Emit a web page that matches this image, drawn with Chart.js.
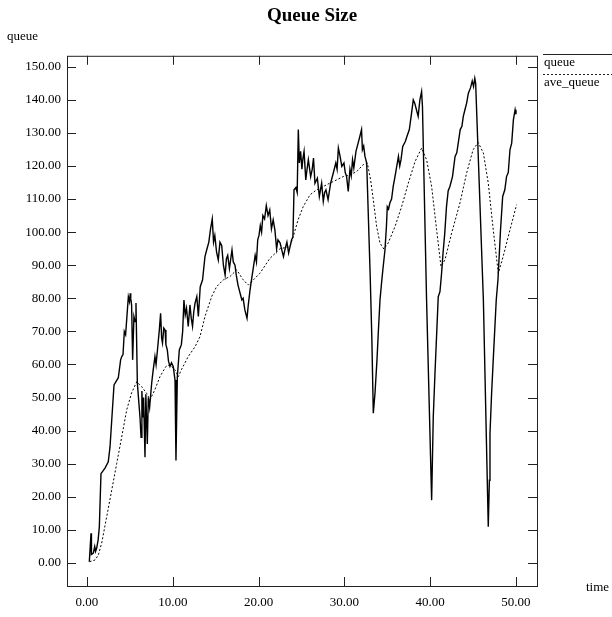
<!DOCTYPE html>
<html>
<head>
<meta charset="utf-8">
<script src="https://cdn.jsdelivr.net/npm/chart.js@4/dist/chart.umd.min.js"></script>
<style>
  html, body { margin: 0; padding: 0; background: #fff; }
  #wrap { position: relative; width: 612px; height: 617px; }
</style>
</head>
<body>
<div id="wrap"><canvas id="queueChart"></canvas></div>
<script>
// ticks dos eixos
const xTicks = [0, 10, 20, 30, 40, 50];
const yTicks = [0, 10, 20, 30, 40, 50, 60, 70, 80, 90, 100, 110, 120, 130, 140, 150];

// queue (tempo, valor)
const queueT = [0.27, 0.47, 0.52, 0.74, 0.9, 1.0, 1.13, 1.3, 1.44, 1.63, 2.1, 2.48, 2.68, 2.88, 3.15, 3.65, 3.92, 4.05, 4.2, 4.35,
  4.5, 4.82, 4.95, 5.05, 5.1, 5.2, 5.32, 5.47, 5.6, 5.71, 5.87, 6.0, 6.18, 6.3, 6.4, 6.5, 6.6, 6.76, 6.86, 7.03,
  7.15, 7.3, 7.54, 7.7, 7.92, 8.05, 8.2, 8.43, 8.58, 8.7, 8.8, 8.95, 9.1, 9.2, 9.36, 9.5, 9.67, 9.85, 10.05, 10.26,
  10.37, 10.53, 10.76, 11.0, 11.15, 11.3, 11.45, 11.6, 11.8, 12.0, 12.15, 12.3, 12.45, 12.6, 12.8, 12.98, 13.2, 13.47, 13.75, 13.95,
  14.2, 14.4, 14.6, 14.75, 14.9, 15.1, 15.3, 15.5, 15.7, 15.9, 16.1, 16.25, 16.4, 16.6, 16.9, 17.05, 17.25, 17.4, 17.6, 17.8,
  18.05, 18.2, 18.4, 18.65, 18.8, 19.0, 19.2, 19.35, 19.6, 19.75, 19.9, 20.05, 20.2, 20.35, 20.5, 20.7, 20.9, 21.1, 21.3, 21.5,
  21.7, 21.9, 22.1, 22.26, 22.5, 22.9, 23.1, 23.3, 23.5, 23.7, 23.85, 24.0, 24.13, 24.35, 24.5, 24.63, 24.75, 24.9, 25.05, 25.15,
  25.3, 25.5, 25.65, 25.8, 26.07, 26.25, 26.4, 26.57, 26.85, 27.08, 27.35, 27.54, 27.7, 27.85, 28.1, 28.4, 28.7, 29.0, 29.15, 29.3,
  29.5, 29.7, 29.95, 30.1, 30.26, 30.45, 30.65, 30.8, 30.95, 31.1, 31.35, 31.6, 31.8, 32.0, 32.1, 32.25, 32.4, 32.6, 33.0, 33.2,
  33.37, 33.57, 33.8, 33.95, 34.15, 34.33, 34.5, 34.73, 34.9, 35.0, 35.15, 35.3, 35.5, 35.7, 35.9, 36.1, 36.3, 36.45, 36.6, 36.8,
  37.1, 37.3, 37.57, 37.83, 38.03, 38.2, 38.4, 38.6, 38.8, 39.0, 39.1, 39.58, 40.17, 40.36, 40.56, 40.76, 40.94, 41.14, 41.33, 41.5,
  41.7, 41.9, 42.1, 42.3, 42.6, 42.9, 43.1, 43.27, 43.5, 43.7, 43.86, 44.05, 44.25, 44.45, 44.7, 44.9, 45.05, 45.2, 45.3, 46.2,
  46.77, 46.9, 46.97, 47.16, 47.35, 47.7, 47.9, 48.2, 48.45, 48.7, 48.9, 49.1, 49.3, 49.5, 49.7, 49.9, 50.0];
const queueV = [0.4, 9, 2.6, 3, 5, 3.5, 4.5, 7, 11, 27, 28.7, 30.6, 35, 43, 53.8, 56, 61.4, 62.4, 63, 70,
  69, 80.5, 79, 81.5, 80, 78, 61.4, 74.5, 73, 78.6, 54.4, 50, 44, 38, 52, 44, 50, 32, 51, 36,
  50, 47, 54.4, 58, 62.4, 60, 64, 70.4, 75.5, 68, 66.5, 71, 70.4, 66, 64.4, 61, 59.4, 60.5, 59.4, 55.3,
  31, 56.3, 64.4, 66, 70, 79.5, 75, 77, 71.5, 78, 74, 71.5, 76, 78.6, 80.5, 74.5, 83.5, 85.6, 92.6, 94.6,
  97, 101, 104, 97, 99, 94, 91.6, 97, 96, 90, 87, 92, 93, 89, 94.6, 91, 90, 87, 84, 82,
  79.5, 80, 76.5, 74, 78, 82.5, 86, 88.6, 93, 91, 97.7, 99, 102, 100, 105, 104, 108, 105, 106.7, 101,
  103.7, 100.7, 95, 97.7, 96.8, 92.6, 95, 97, 93.7, 96, 97.7, 98.5, 112.8, 113.5, 112, 131, 120.9, 124.4, 119, 121.9,
  124.4, 115.8, 119, 121.9, 116.8, 119, 122.4, 114.8, 116.3, 110.8, 114.8, 109.3, 112, 112.8, 109.8, 114.8, 117.8, 120.9, 119, 125.4,
  122.9, 119.9, 120.9, 118, 116.8, 112.3, 119, 117, 121.9, 119.4, 124.4, 126.9, 128.9, 131, 124.9, 126, 122.9, 120.9, 87.6, 68,
  45.3, 51.4, 61.4, 69.5, 79.5, 84.6, 89, 94.6, 101.7, 107.7, 107, 108.8, 110, 114, 116.8, 119.9, 122.9, 120, 121.9, 125.9,
  127.4, 129, 131, 136, 140, 139, 137, 135, 140, 142.5, 138, 79.5, 19, 44.2, 57.4, 69.5, 80.5, 82, 87.6, 93.7,
  99.7, 107.7, 112.5, 113.8, 116.8, 122.9, 124, 126.9, 131, 132, 135, 137, 139, 142, 143.6, 145.7, 144, 146.5, 145, 79.5,
  11, 25, 39, 51.3, 61.4, 79.5, 85.6, 100.7, 110.8, 112.8, 116.8, 118, 124.9, 126.9, 134, 137, 135.6];

// ave_queue (tempo, valor)
const aveT = [0.3, 0.93, 1.32, 1.71, 2.3, 2.88, 3.46, 4.04, 4.63, 5.2, 5.8, 6.37, 6.95, 7.34, 7.9, 8.5, 9.2, 9.67, 10.26, 10.64,
  11.0, 11.8, 12.6, 13.17, 13.75, 14.53, 15.1, 15.9, 16.67, 17.45, 18.2, 18.8, 19.4, 20.16, 21.3, 22.5, 23.66, 24.04, 24.6, 25.2,
  26.0, 26.77, 27.54, 28.3, 29.1, 29.87, 30.65, 31.43, 32.2, 32.67, 33.06, 33.37, 33.76, 34.15, 34.6, 35.1, 35.9, 36.67, 37.45, 38.23,
  39.0, 39.58, 40.17, 40.75, 41.26, 41.72, 42.5, 43.47, 44.24, 45.0, 45.6, 46.2, 46.77, 47.35, 47.94, 48.5, 49.3, 50.07];
const aveV = [0.4, 0.9, 2.4, 6, 14, 22, 30, 38, 46.3, 51.4, 54.8, 53.3, 51.3, 49.3, 52.3, 56.3, 59.4, 59.9, 58.4, 56.3,
  58.4, 62.4, 65.4, 68.4, 74.5, 80.5, 83.5, 85.6, 86.6, 88.6, 85.6, 84, 85.6, 87.6, 92, 95, 95.6, 98.7, 103.7, 107.7,
  111.3, 112.8, 113.8, 114.8, 115.8, 116.8, 117.3, 118.3, 120.4, 120.9, 115.8, 109.8, 101.7, 96.7, 94.9, 96.7, 101.7, 107.7, 114.8, 121.3,
  125.4, 121.9, 113.8, 100.7, 89.6, 91.6, 99.7, 108.8, 117.8, 124.9, 127.1, 123.9, 114.8, 100.7, 87.6, 92.6, 100.7, 108.3];

const FONT = '13px "Liberation Serif", "DejaVu Serif", serif';
const TICK = 9;

function toPoints(ts, vs) {
    return ts.map((t, i) => ({ x: t, y: vs[i] }));
}

// caixa, marcas internas, rótulos soltos e legenda
const frameLabels = {
    id: 'frameLabels',
    afterDraw(chart) {
        const { ctx, chartArea: a, scales } = chart;
        ctx.save();
        ctx.strokeStyle = '#222';
        ctx.lineWidth = 1;
        ctx.strokeRect(a.left + 0.5, a.top + 0.5, a.right - a.left, a.bottom - a.top);

        ctx.beginPath();
        xTicks.forEach(v => {
            const px = Math.round(scales.x.getPixelForValue(v)) + 0.5;
            ctx.moveTo(px, a.bottom); ctx.lineTo(px, a.bottom - TICK);
            ctx.moveTo(px, a.top); ctx.lineTo(px, a.top + TICK);
        });
        yTicks.forEach(v => {
            const py = Math.round(scales.y.getPixelForValue(v)) + 0.5;
            ctx.moveTo(a.left, py); ctx.lineTo(a.left + TICK, py);
            ctx.moveTo(a.right, py); ctx.lineTo(a.right - TICK, py);
        });
        ctx.stroke();

        ctx.fillStyle = '#000';
        ctx.font = FONT;
        ctx.textBaseline = 'alphabetic';
        ctx.textAlign = 'left';
        ctx.fillText('queue', 7, 40);
        ctx.fillText('time', 586, 591);

        // legenda
        ctx.fillText('queue', 544, 66);
        ctx.fillText('ave_queue', 544, 86);
        ctx.beginPath();
        ctx.moveTo(543, 54.5); ctx.lineTo(612, 54.5);
        ctx.stroke();
        ctx.setLineDash([2, 2]);
        ctx.beginPath();
        ctx.moveTo(543, 74.5); ctx.lineTo(612, 74.5);
        ctx.stroke();
        ctx.restore();
    }
};

const ctx = document.getElementById('queueChart').getContext('2d');
new Chart(ctx, {
    type: 'line',
    data: {
        datasets: [
            {
                label: 'queue',
                data: toPoints(queueT, queueV),
                borderColor: '#000',
                borderWidth: 1.4,
                pointRadius: 0,
                tension: 0,
                fill: false
            },
            {
                label: 'ave_queue',
                data: toPoints(aveT, aveV),
                borderColor: '#000',
                borderWidth: 1,
                borderDash: [2, 2],
                pointRadius: 0,
                tension: 0,
                fill: false
            }
        ]
    },
    options: {
        responsive: true,
        maintainAspectRatio: false,
        animation: false,
        layout: { padding: { left: 12, right: 0, top: 0, bottom: 0 } },
        scales: {
            x: {
                type: 'linear',
                min: -2.33,
                max: 52.45,
                grid: { display: false, drawTicks: false },
                border: { display: false },
                afterBuildTicks: s => { s.ticks = xTicks.map(v => ({ value: v })); },
                afterFit: s => { s.height = 31; },
                ticks: {
                    autoSkip: false,
                    maxRotation: 0,
                    padding: 9,
                    color: '#000',
                    font: { family: '"Liberation Serif", serif', size: 13 },
                    callback: v => v.toFixed(2)
                }
            },
            y: {
                min: -6.95,
                max: 153.3,
                grid: { display: false, drawTicks: false },
                border: { display: false },
                afterBuildTicks: s => { s.ticks = yTicks.map(v => ({ value: v })); },
                afterFit: s => { s.width = 55; },
                ticks: {
                    autoSkip: false,
                    padding: 6,
                    color: '#000',
                    font: { family: '"Liberation Serif", serif', size: 13 },
                    callback: v => v.toFixed(2)
                }
            },
            y2: {
                position: 'right',
                grid: { display: false, drawTicks: false },
                border: { display: false },
                ticks: { display: false },
                afterFit: s => { s.width = 75; }
            }
        },
        plugins: {
            legend: { display: false },
            tooltip: { enabled: false },
            title: {
                display: true,
                text: 'Queue Size',
                color: '#000',
                font: { family: '"Liberation Serif", serif', size: 19, weight: 'bold' },
                padding: { top: 5, bottom: 28 }
            }
        }
    },
    plugins: [frameLabels]
});
</script>
</body>
</html>
